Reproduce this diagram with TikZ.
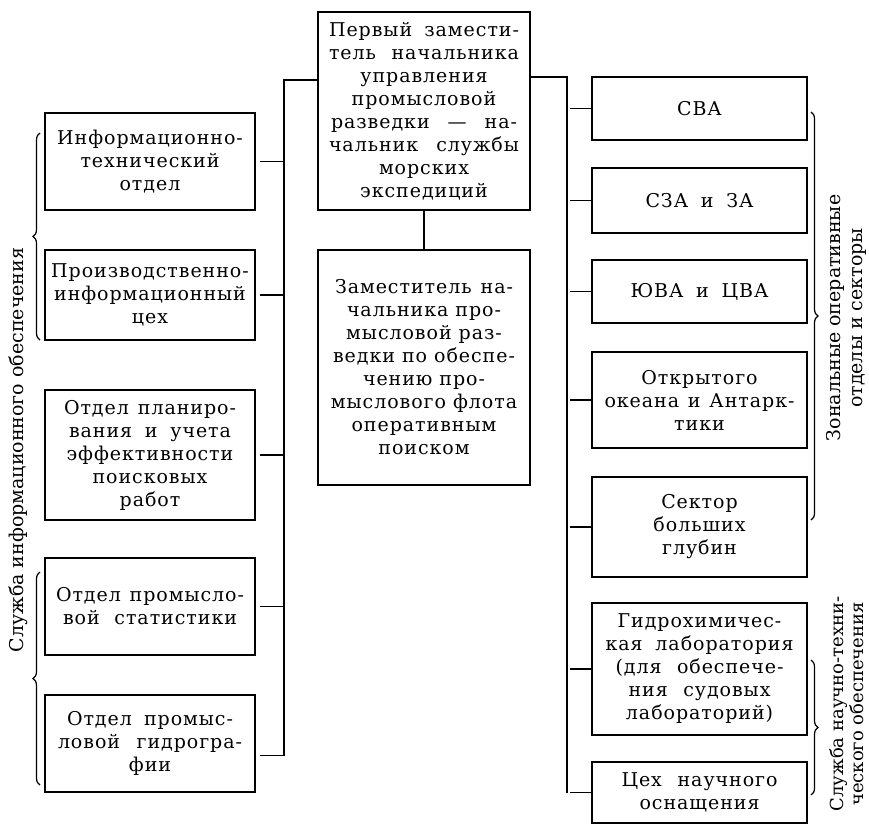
\documentclass[tikz,border=0pt]{standalone}
\usepackage{fontspec}
\setmainfont{DejaVu Serif}
\newfontfamily\boxfont[LetterSpace=5]{DejaVu Serif}
\usetikzlibrary{decorations.pathreplacing,calc}
\newcommand{\jl}[2]{\makebox[#1pt][s]{#2}}
\begin{document}
\begin{tikzpicture}[x=1pt,y=-1pt,
  line width=1.3pt,
  box/.style={draw, line width=1.3pt, rectangle, inner sep=0pt, align=center,
    font=\boxfont\fontsize{19}{23}\selectfont},
  lbox/.style={box, minimum width=210pt},
  cbox/.style={box, minimum width=212pt},
  rbox/.style={box, minimum width=215pt},
  lab/.style={rotate=90, align=center, inner sep=0pt, font=\fontsize{19}{22}\selectfont},
  brc/.style={decorate, decoration={brace, amplitude=7pt}, line width=1.2pt},
  stub/.style={shorten <=4pt}
]
\useasboundingbox (0,0) rectangle (869,825);
\clip (0,0) rectangle (869,825);
\fill[white] (0,0) rectangle (869,825);

% central boxes
\node[cbox, minimum height=198pt] (top) at (424,111) {\jl{190}{Первый замести-}\\\jl{190}{тель начальника}\\управления\\промысловой\\\jl{186}{разведки — на-}\\\jl{190}{чальник службы}\\морских\\экспедиций};
\node[cbox, minimum height=235pt] (low) at (424,367.5) {\jl{178}{Заместитель на-}\\чальника про-\\мысловой раз-\\ведки по обеспе-\\чению про-\\мыслового флота\\оперативным\\поиском};
\draw (top.south) -- (low.north);

% left boxes
\node[lbox, minimum height=97pt] (b1) at (150,161.5) {Информационно-\\технический\\отдел};
\node[lbox, minimum height=90pt] (b2) at (150,295) {Производственно-\\информационный\\цех};
\node[lbox, minimum height=130pt] (b3) at (150,455) {\jl{172}{Отдел планиро-}\\\jl{162}{вания и учета}\\эффективности\\поисковых\\работ};
\node[lbox, minimum height=97pt] (b4) at (150,606.5) {\jl{188}{Отдел промысло-}\\\jl{174}{вой статистики}};
\node[lbox, minimum height=97pt] (b5) at (150,743.5) {\jl{166}{Отдел промыс-}\\\jl{184}{ловой гидрогра-}\\фии};

\coordinate (ltop) at (284,80);
\coordinate (lend) at ([yshift=-12pt]b5.east);
\draw (top.west |- ltop) -- (ltop) -- (ltop |- lend);
\foreach \b in {b1,b2,b3,b4}{
  \draw[stub] (\b.east) -- (\b.east -| ltop);
}
\draw[stub] (lend) -- (lend -| ltop);

% right boxes
\node[rbox, minimum height=63pt] (r1) at (699.5,108.5) {СВА};
\node[rbox, minimum height=65pt] (r2) at (699.5,200.5) {\jl{108}{СЗА и ЗА}};
\node[rbox, minimum height=63pt] (r3) at (699.5,291.5) {\jl{138}{ЮВА и ЦВА}};
\node[rbox, minimum height=96pt] (r4) at (699.5,400) {Открытого\\\jl{190}{океана и Антарк-}\\тики};
\node[rbox, minimum height=100pt] (r5) at (699.5,527) {Сектор\\больших\\глубин};
\node[rbox, minimum height=132pt] (r6) at (699.5,669) {Гидрохимичес-\\\jl{188}{кая лаборатория}\\\jl{168}{(для обеспече-}\\\jl{142}{ния судовых}\\лабораторий)};
\node[rbox, minimum height=61pt] (r7) at (699.5,792.5) {\jl{156}{Цех научного}\\оснащения};

\coordinate (rtop) at (567,77);
\draw (top.east |- rtop) -- (rtop) -- (rtop |- r7.west);
\foreach \b in {r1,r2,r3,r4,r5,r6,r7}{
  \draw[shorten <=3pt] (rtop |- \b.west) -- (\b.west);
}

% braces
\draw[brc] (40,340) -- (40,133);
\draw[brc] (40,785) -- (40,572);
\draw[brc] (811,112) -- (811,520);
\draw[brc] (811,660) -- (811,795);

% labels
\node[lab] (l1) at (18,450) {Служба информационного обеспечения};
\node[lab] (l2) at (846,318) {Зональные оперативные\\отделы и секторы};
\node[lab, font=\fontsize{18}{20}\selectfont] (l3) at (847,704) {Служба научно-техни-\\ческого обеспечения};
\end{tikzpicture}
\end{document}
